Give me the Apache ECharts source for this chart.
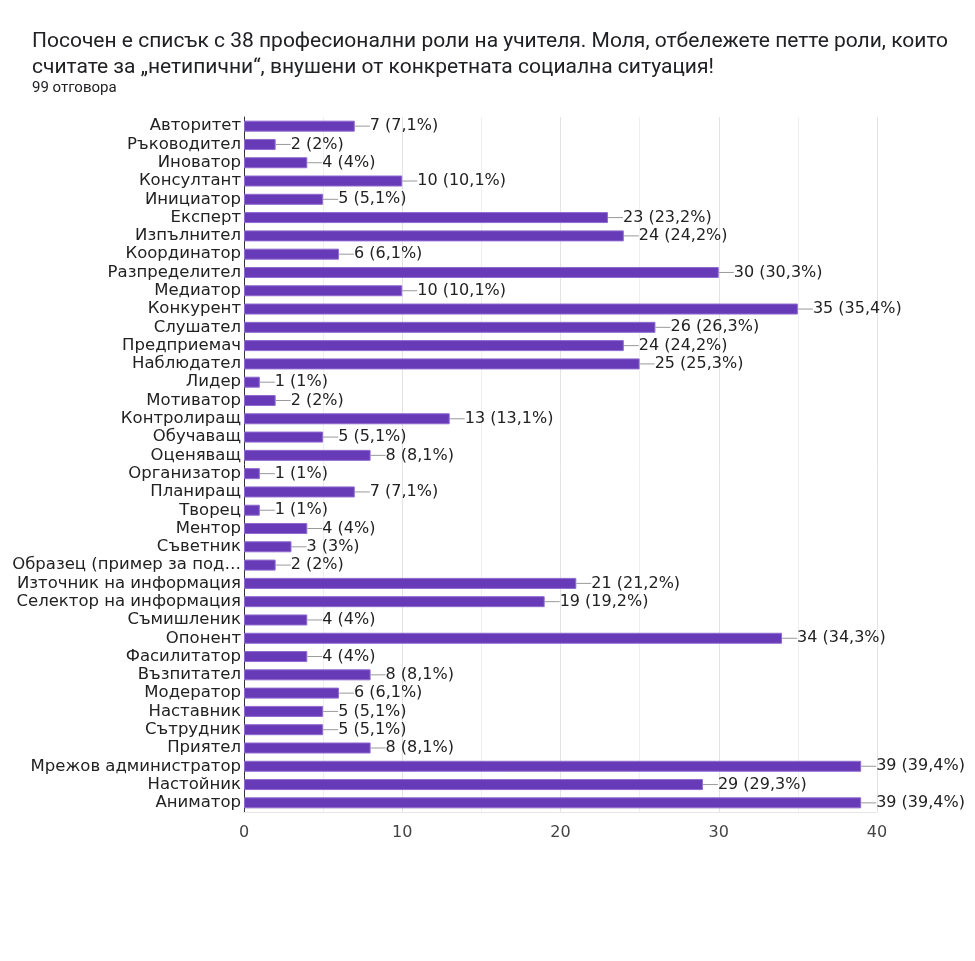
<!DOCTYPE html>
<html>
<head>
<meta charset="utf-8">
<script src="https://cdn.jsdelivr.net/npm/echarts@6/dist/echarts.min.js"></script>
<style>html,body{margin:0;padding:0;background:#fff}#c{width:975px;height:961px}</style>
</head>
<body>
<div id="c"></div>
<script>
const categories = ['Авторитет','Ръководител','Иноватор','Консултант','Инициатор','Експерт','Изпълнител','Координатор','Разпределител','Медиатор','Конкурент','Слушател','Предприемач','Наблюдател','Лидер','Мотиватор','Контролиращ','Обучаващ','Оценяващ','Организатор','Планиращ','Творец','Ментор','Съветник','Образец (пример за под…','Източник на информация','Селектор на информация','Съмишленик','Опонент','Фасилитатор','Възпитател','Модератор','Наставник','Сътрудник','Приятел','Мрежов администратор','Настойник','Аниматор'];
const counts = [7,2,4,10,5,23,24,6,30,10,35,26,24,25,1,2,13,5,8,1,7,1,4,3,2,21,19,4,34,4,8,6,5,5,8,39,29,39];
const percents = ['7,1%','2%','4%','10,1%','5,1%','23,2%','24,2%','6,1%','30,3%','10,1%','35,4%','26,3%','24,2%','25,3%','1%','2%','13,1%','5,1%','8,1%','1%','7,1%','1%','4%','3%','2%','21,2%','19,2%','4%','34,3%','4%','8,1%','6,1%','5,1%','5,1%','8,1%','39,4%','29,3%','39,4%'];
const xTicks = [0,10,20,30,40];
const titleText = 'Посочен е списък с 38 професионални роли на учителя. Моля, отбележете петте роли, които\nсчитате за „нетипични“, внушени от конкретната социална ситуация!';
const subtitleText = '99 отговора';

const chart = echarts.init(document.getElementById('c'));
chart.setOption({
  animation: false,
  title: {
    text: titleText,
    subtext: subtitleText,
    left: 27, top: 24,
    itemGap: 0,
    textStyle: {fontFamily: 'Roboto', fontSize: 21, fontWeight: 'normal', color: '#202124', lineHeight: 26},
    subtextStyle: {fontFamily: 'Roboto', fontSize: 15, color: '#202124'}
  },
  grid: {left: 244, right: 98, top: 117, bottom: 149, containLabel: false},
  xAxis: {
    type: 'value', min: xTicks[0], max: xTicks[xTicks.length-1], interval: 10,
    axisLine: {show: true, lineStyle: {color: '#e6e6e6'}},
    axisTick: {show: false},
    axisLabel: {fontFamily: 'DejaVu Sans', fontSize: 16, color: '#444', margin: 13},
    splitLine: {show: true, lineStyle: {color: '#e3e3e3'}},
    minorTick: {show: false, splitNumber: 2},
    minorSplitLine: {show: true, lineStyle: {color: '#efefef'}}
  },
  yAxis: {
    type: 'category', data: categories, inverse: true,
    axisLine: {show: true, lineStyle: {color: '#333'}},
    axisTick: {show: false},
    axisLabel: {interval: 0, fontFamily: 'DejaVu Sans', fontSize: 16.5, color: '#222', margin: 3}
  },
  series: [{
    type: 'bar',
    data: counts,
    barWidth: 11,
    itemStyle: {color: '#673ab7', borderColor: '#8f6bcf', borderWidth: 1},
    label: {
      show: true, position: 'right', distance: 0,
      formatter: p => '{ln|}{t|' + counts[p.dataIndex] + ' (' + percents[p.dataIndex] + ')}',
      rich: {
        ln: {width: 15, height: 1, backgroundColor: '#999'},
        t: {fontFamily: 'DejaVu Sans', fontSize: 16, color: '#222'}
      }
    }
  }]
});
</script>
</body>
</html>
